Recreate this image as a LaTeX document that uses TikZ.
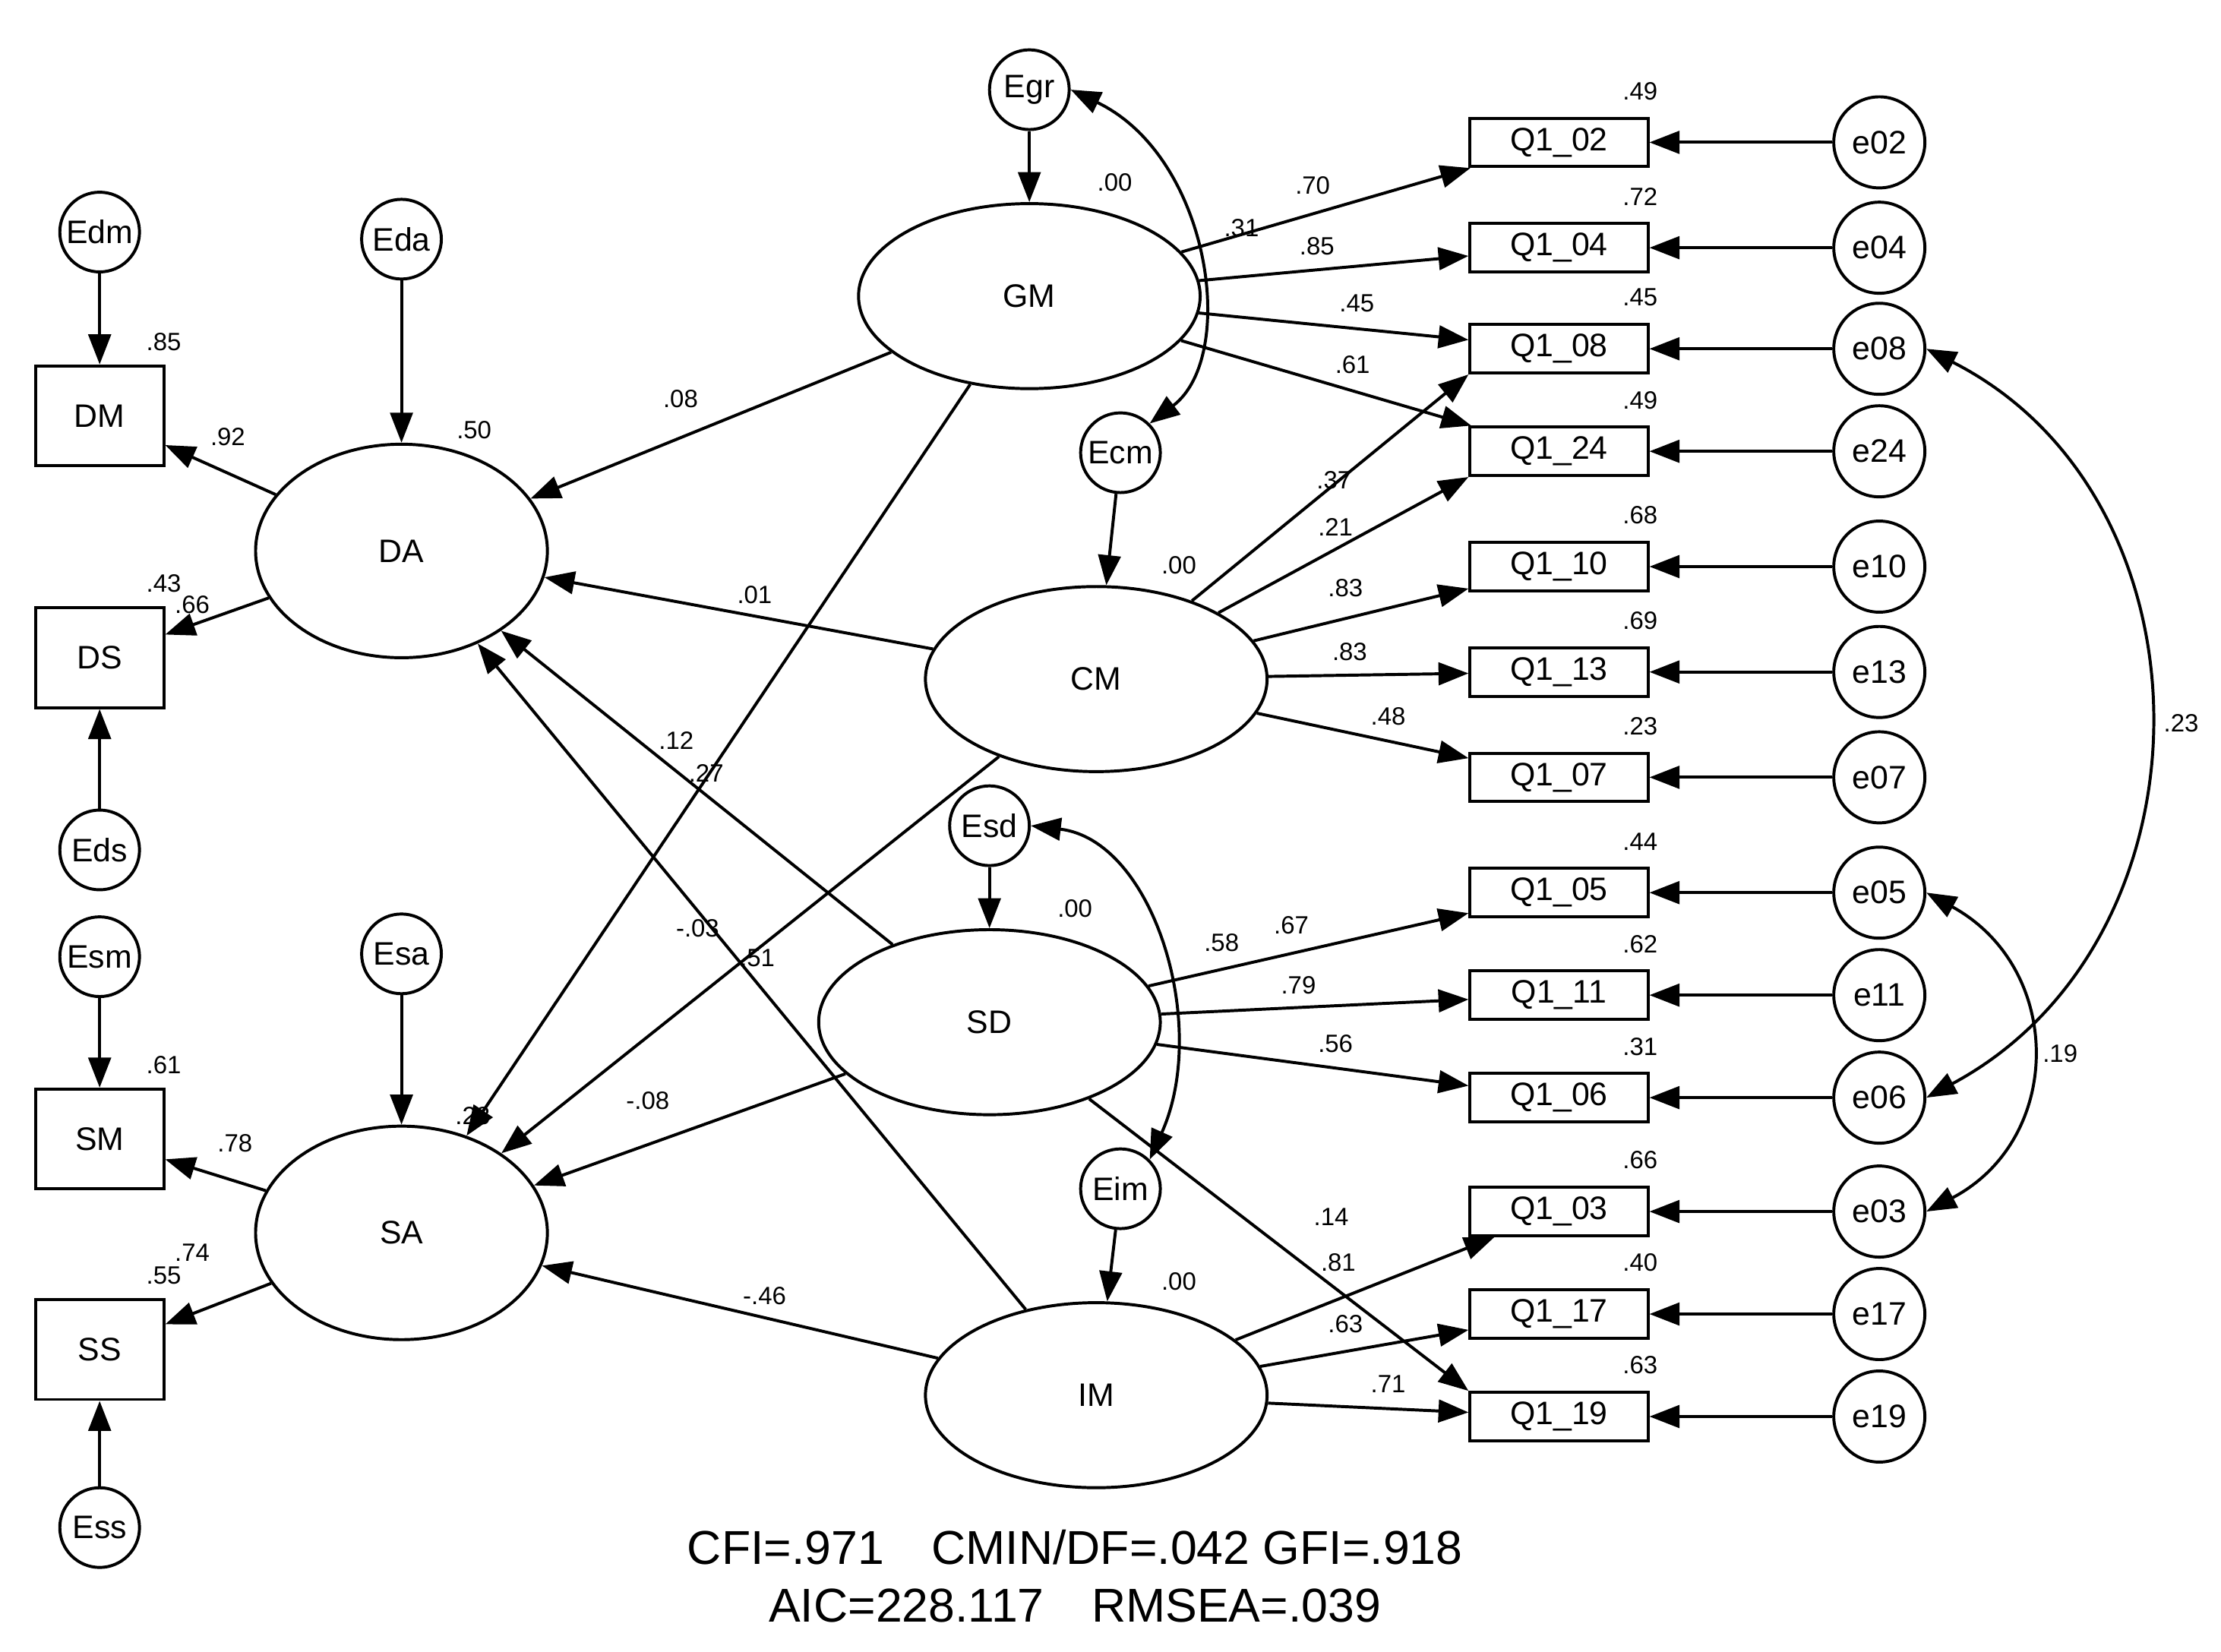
\documentclass[tikz,border=0pt]{standalone}
\usepackage{fontspec}
\setmainfont{Liberation Sans}
\usetikzlibrary{shapes.geometric,arrows.meta}
\begin{document}
\begin{tikzpicture}[x=0.02cm,y=-0.02cm,
 every node/.style={font=\fontsize{13}{15}\selectfont},
 lat/.style={draw,line width=1.2pt,ellipse,minimum width=4.8cm,minimum height=2.6cm},
 lat2/.style={lat,minimum width=4.1cm,minimum height=3cm},
 err/.style={draw,line width=1.2pt,circle,minimum size=1.12cm,inner sep=0pt},
 erq/.style={err,minimum size=1.28cm},
 obs/.style={draw,line width=1.2pt,minimum width=2.5cm,minimum height=0.68cm,inner sep=0pt},
 obs2/.style={draw,line width=1.2pt,minimum width=1.8cm,minimum height=1.4cm,inner sep=0pt},
 lab/.style={font=\fontsize{10}{12}\selectfont,inner sep=1pt},
 ar/.style={line width=1.2pt,-{Triangle[length=12pt,width=9pt]}},
 cov/.style={line width=1.2pt,{Triangle[length=12pt,width=9pt]}-{Triangle[length=12pt,width=9pt]}}]
\useasboundingbox (0,0) rectangle (1560,1160);
% latent
\node[lat] (GM) at (723,208) {GM};
\node[lat] (CM) at (770,477) {CM};
\node[lat] (SD) at (695,718) {SD};
\node[lat] (IM) at (770,980) {IM};
\node[lat2] (DA) at (282,387) {DA};
\node[lat2] (SA) at (282,866) {SA};
\node[err] (Egr) at (723,63) {Egr};
\node[err] (Ecm) at (787,318) {Ecm};
\node[err] (Esd) at (695,580) {Esd};
\node[err] (Eim) at (787,835) {Eim};
\node[err] (Eda) at (282,168) {Eda};
\node[err] (Esa) at (282,670) {Esa};
\node[err] (Edm) at (70,163) {Edm};
\node[err] (Eds) at (70,597) {Eds};
\node[err] (Esm) at (70,672) {Esm};
\node[err] (Ess) at (70,1073) {Ess};
\node[obs2] (DM) at (70,292) {DM};
\node[obs2] (DS) at (70,462) {DS};
\node[obs2] (SM) at (70,800) {SM};
\node[obs2] (SS) at (70,948) {SS};
\foreach \n/\y/\r in {02/100/.49,04/174/.72,08/245/.45,24/317/.49,10/398/.68,13/472/.69,07/546/.23,05/627/.44,11/699/.62,06/771/.31,03/851/.66,17/923/.40,19/995/.63}{
 \node[obs] (Q\n) at (1095,\y) {Q1\_\n};
 \node[erq] (e\n) at (1320,\y) {e\n};
 \draw[ar] (e\n) -- (Q\n);
 \node[lab] at (1152,\y-36) {\r};
}
% disturbances
\foreach \a/\b in {Egr/GM,Ecm/CM,Esd/SD,Eim/IM,Eda/DA,Esa/SA,Edm/DM,Eds/DS,Esm/SM,Ess/SS}{\draw[ar] (\a) -- (\b);}
% loadings
\draw[ar] (GM) -- (Q02); \node[lab] at (922,130) {.70};
\draw[ar] (GM) -- (Q04); \node[lab] at (925,173) {.85};
\draw[ar] (GM) -- (Q08); \node[lab] at (953,213) {.45};
\draw[ar] (GM) -- (Q24); \node[lab] at (950,256) {.61};
\draw[ar] (CM) -- (Q08.south west); \node[lab] at (937,337) {.37};
\draw[ar] (CM) -- (Q24.south west); \node[lab] at (938,370) {.21};
\draw[ar] (CM) -- (Q10); \node[lab] at (945,413) {.83};
\draw[ar] (CM) -- (Q13); \node[lab] at (948,458) {.83};
\draw[ar] (CM) -- (Q07); \node[lab] at (975,503) {.48};
\draw[ar] (SD) -- (Q05); \node[lab] at (907,650) {.67};
\draw[ar] (SD) -- (Q11); \node[lab] at (912,692) {.79};
\draw[ar] (SD) -- (Q06); \node[lab] at (938,733) {.56};
\draw[ar] (SD) -- (Q19.north west); \node[lab] at (935,855) {.14};
\draw[ar] (IM) -- (Q03); \node[lab] at (940,887) {.81};
\draw[ar] (IM) -- (Q17); \node[lab] at (945,930) {.63};
\draw[ar] (IM) -- (Q19); \node[lab] at (975,972) {.71};
% structural
\draw[ar] (GM) -- (DA); \node[lab] at (478,280) {.08};
\draw[ar] (GM) -- (SA); \node[lab] at (496,543) {.27};
\draw[ar] (CM) -- (DA); \node[lab] at (530,418) {.01};
\draw[ar] (CM) -- (SA); \node[lab] at (490,652) {-.03};
\draw[ar] (SD) -- (DA); \node[lab] at (475,520) {.12};
\draw[ar] (SD) -- (SA); \node[lab] at (455,773) {-.08};
\draw[ar] (IM) -- (DA); \node[lab] at (532,673) {.51};
\draw[ar] (IM) -- (SA); \node[lab] at (537,910) {-.46};
\draw[ar] (DA) -- (DM); \node[lab] at (160,307) {.92};
\draw[ar] (DA) -- (DS); \node[lab] at (135,425) {.66};
\draw[ar] (SA) -- (SM); \node[lab] at (165,803) {.78};
\draw[ar] (SA) -- (SS); \node[lab] at (135,880) {.74};
% R2
\node[lab] at (783,128) {.00};
\node[lab] at (828,397) {.00};
\node[lab] at (755,638) {.00};
\node[lab] at (828,900) {.00};
\node[lab] at (333,302) {.50};
\node[lab] at (332,784) {.28};
\node[lab] at (115,240) {.85};
\node[lab] at (115,410) {.43};
\node[lab] at (115,748) {.61};
\node[lab] at (115,896) {.55};
% covariances
\draw[cov] (Egr.east) .. controls (850,110) and (870,250) .. (Ecm.north east); \node[lab] at (872,160) {.31};
\draw[cov] (Esd.east) .. controls (810,590) and (850,720) .. (Eim.north east); \node[lab] at (858,662) {.58};
\draw[cov] (e08.east) .. controls (1560,350) and (1560,660) .. (e06.east); \node[lab] at (1532,508) {.23};
\draw[cov] (e05.east) .. controls (1450,680) and (1450,800) .. (e03.east); \node[lab] at (1447,740) {.19};
\node[font=\fontsize{19}{23}\selectfont,align=center] (fit) at (755,1107) {CFI=.971\quad CMIN/DF=.042 GFI=.918\\AIC=228.117\quad RMSEA=.039};
\end{tikzpicture}
\end{document}
